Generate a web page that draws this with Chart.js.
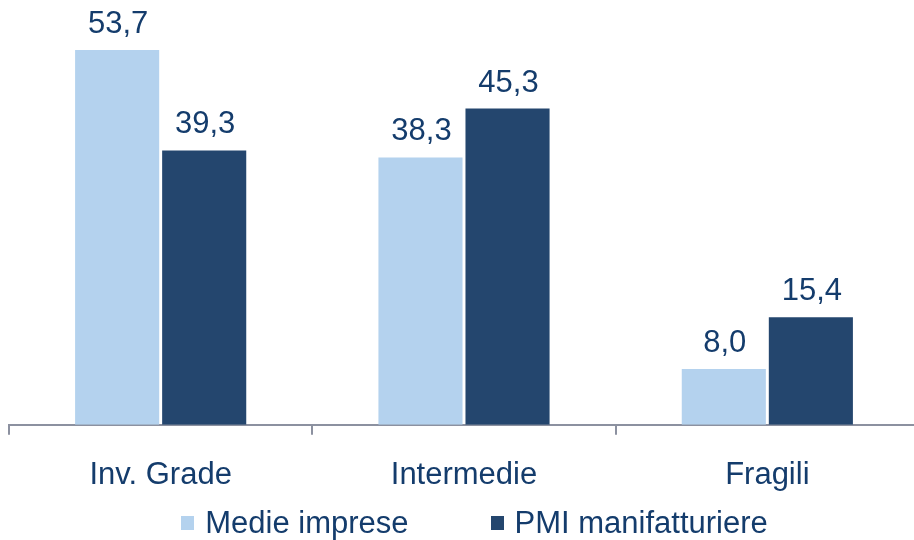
<!DOCTYPE html>
<html>
<head>
<meta charset="utf-8">
<script src="https://cdn.jsdelivr.net/npm/chart.js@4.4.1/dist/chart.umd.min.js"></script>
<style>
  html, body { margin: 0; padding: 0; background: #ffffff; overflow: hidden; width: 914px; height: 540px; }
  #wrap { position: relative; width: 930px; height: 540px; }
  #c { position: absolute; left: 0; top: 0; }
  #legend { position: absolute; left: 0; top: 507px; width: 949px; display: flex; justify-content: center; align-items: center;
            font-family: 'Liberation Sans', Arial, sans-serif; font-size: 31px; line-height: 31px; letter-spacing: 0px; color: #143c6c; }
  .item { display: flex; align-items: center; }
  .item + .item { margin-left: 82px; }
  .box { width: 13px; height: 14px; margin-right: 11px; }
</style>
</head>
<body>
<div id="wrap">
  <canvas id="c" width="930" height="540"></canvas>
  <div id="legend"></div>
</div>
<script>
// ---- data ----
const categories = ['Inv. Grade', 'Intermedie', 'Fragili'];
const seriesNames = ['Medie imprese', 'PMI manifatturiere'];
const medieImprese = [53.7, 38.3, 8.0];
const pmiManifatturiere = [39.3, 45.3, 15.4];
const yMin = 0;
const yMax = 60;

// ---- styles ----
const colors = ['#b4d2ee', '#24466e'];
const textColor = '#143c6c';
const axisColor = '#8c91a0';
const fontFamily = "'Liberation Sans', Arial, sans-serif";
const fontSize = 31;

const valueLabels = {
  id: 'valueLabels',
  afterDatasetsDraw(chart) {
    const ctx = chart.ctx;
    ctx.save();
    ctx.font = fontSize + 'px ' + fontFamily;
    ctx.fillStyle = textColor;
    ctx.textAlign = 'center';
    ctx.textBaseline = 'alphabetic';
    chart.data.datasets.forEach((ds, i) => {
      chart.getDatasetMeta(i).data.forEach((bar, j) => {
        const txt = ds.data[j].toFixed(1).replace('.', ',');
        ctx.fillText(txt, bar.x + 1, bar.y - 17);
      });
    });
    ctx.restore();
  }
};

const seriesData = [medieImprese, pmiManifatturiere];

new Chart(document.getElementById('c'), {
  type: 'bar',
  data: {
    labels: categories,
    datasets: seriesNames.map((name, i) => ({
      label: name,
      data: seriesData[i],
      backgroundColor: colors[i],
      borderWidth: 0,
      categoryPercentage: 0.574,
      barPercentage: 0.966
    }))
  },
  options: {
    responsive: false,
    animation: false,
    devicePixelRatio: 1,
    layout: { padding: { top: 6, left: 9, right: 11, bottom: 24 } },
    plugins: {
      legend: { display: false },
      tooltip: { enabled: false }
    },
    scales: {
      x: {
        grid: { display: true, drawOnChartArea: false, drawTicks: true, tickLength: 10, color: axisColor, lineWidth: 2, offset: true },
        border: { display: true, color: axisColor, width: 2 },
        ticks: { color: textColor, font: { family: fontFamily, size: fontSize }, padding: 22 }
      },
      y: { display: false, min: yMin, max: yMax }
    }
  },
  plugins: [valueLabels]
});

// legend (HTML, built from the series arrays)
const legendEl = document.getElementById('legend');
seriesNames.forEach((name, i) => {
  const item = document.createElement('div');
  item.className = 'item';
  const box = document.createElement('span');
  box.className = 'box';
  box.style.background = colors[i];
  const label = document.createElement('span');
  label.textContent = name;
  item.appendChild(box);
  item.appendChild(label);
  legendEl.appendChild(item);
});
</script>
</body>
</html>
